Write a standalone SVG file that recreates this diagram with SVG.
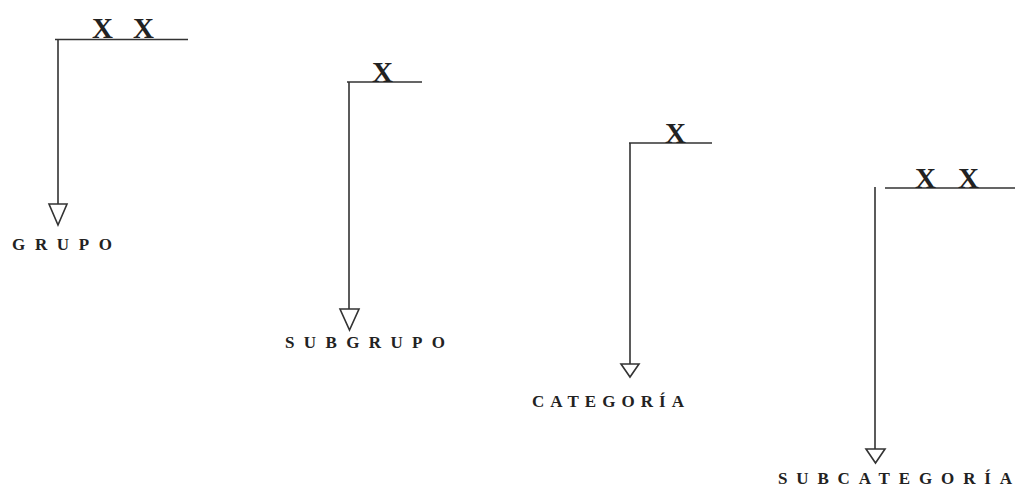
<svg xmlns="http://www.w3.org/2000/svg" width="1015" height="489" viewBox="0 0 1015 489">
<style>
.ln{stroke:#333;stroke-width:1.6;fill:none}
.tri{stroke:#333;stroke-width:1.6;fill:#fff}
.x{font-family:"Liberation Serif",serif;font-weight:bold;font-size:29px;fill:#222}
.lb{font-family:"Liberation Serif",serif;font-weight:bold;font-size:17px;fill:#222}
</style>
<rect width="1015" height="489" fill="#fff"/>
<g id="connectors">
<path class="ln" d="M55 39.5H188M58 39.5V204"/>
<polygon class="tri" points="49,204 67,204 58,225"/>
<path class="ln" d="M347 82H422M349 82V309"/>
<polygon class="tri" points="340,309 359,309 349.5,330"/>
<path class="ln" d="M629 143H712M630 143V364"/>
<polygon class="tri" points="621,364 639,364 630,377"/>
<path class="ln" d="M885 188H1015M875 187V449"/>
<polygon class="tri" points="866,449 885,449 875.5,463"/>
</g>
<g id="grupo">
<text class="x" x="92" y="38">X</text>
<text class="x" x="133" y="38">X</text>
<text class="lb" x="12" y="250" textLength="100" lengthAdjust="spacing">GRUPO</text>
</g>
<g id="subgrupo">
<text class="x" x="372" y="82">X</text>
<text class="lb" x="285" y="348" textLength="160" lengthAdjust="spacing">SUBGRUPO</text>
</g>
<g id="categoria">
<text class="x" x="665" y="143">X</text>
<text class="lb" x="532" y="407" textLength="152" lengthAdjust="spacing">CATEGORÍA</text>
</g>
<g id="subcategoria">
<text class="x" x="915" y="188">X</text>
<text class="x" x="958" y="188">X</text>
<text class="lb" x="778" y="484" textLength="234" lengthAdjust="spacing">SUBCATEGORÍA</text>
</g>
</svg>
